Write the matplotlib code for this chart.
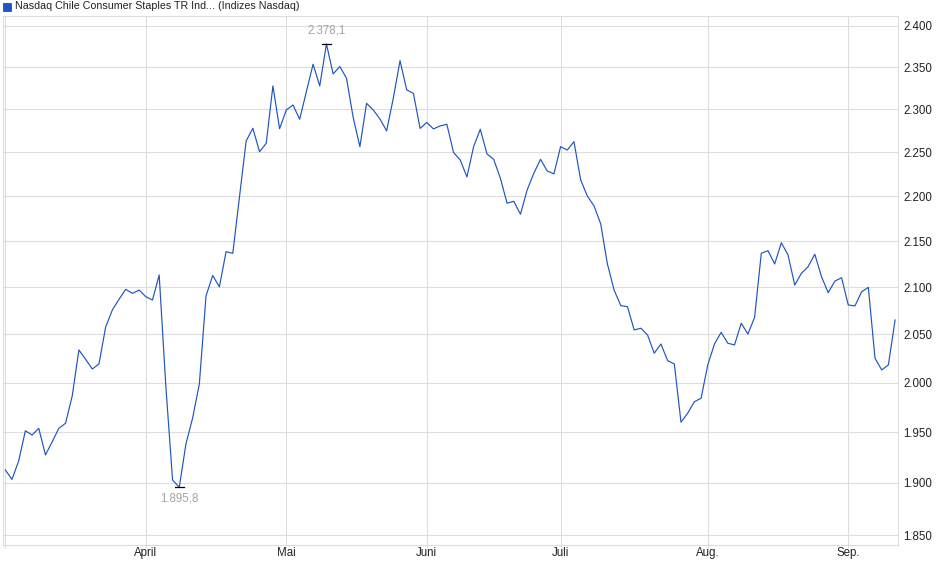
import numpy as np
import pandas as pd
import matplotlib
matplotlib.use("Agg")
import matplotlib.pyplot as plt
from matplotlib.ticker import FixedLocator, NullLocator

plt.rcParams["font.family"] = ["Liberation Sans", "DejaVu Sans"]

# trading days (NYSE calendar) Mar 3 - Sep 11, 2025
holidays = ["2025-04-18", "2025-05-26", "2025-06-19", "2025-07-04", "2025-09-01"]
dates = pd.bdate_range("2025-03-03", "2025-09-11", freq="C", holidays=holidays)

# index closes
close = [
    1912.7, 1903.5, 1921.6, 1951.4, 1947.1, 1953.8, 1927.5, 1940.3, 1953.8, 1958.9,
    1986.4, 2033.7, 2024.1, 2014.0, 2019.2, 2057.7, 2075.7, 2087.1, 2097.7, 2093.4,
    2096.9, 2089.8, 2086.3, 2113.2, 1995.8, 1902.9, 1895.8, 1938.3, 1964.2, 1998.5,
    2090.6, 2112.6, 2100.4, 2138.5, 2136.7, 2199.4, 2263.0, 2277.8, 2250.6, 2260.3,
    2327.6, 2277.2, 2299.1, 2305.0, 2288.3, 2320.5, 2353.5, 2327.6, 2378.1, 2341.9,
    2350.8, 2336.8, 2290.3, 2256.4, 2307.0, 2299.1, 2288.6, 2274.7, 2313.3, 2357.9,
    2322.9, 2318.7, 2277.6, 2284.5, 2277.0, 2280.5, 2282.4, 2249.7, 2241.1, 2221.8,
    2256.4, 2276.6, 2248.0, 2241.9, 2220.3, 2192.1, 2194.3, 2179.8, 2207.0, 2226.0,
    2241.9, 2228.6, 2225.2, 2256.4, 2252.6, 2262.2, 2218.4, 2200.2, 2189.1, 2169.0,
    2125.1, 2096.9, 2080.3, 2079.2, 2054.6, 2056.4, 2049.3, 2030.3, 2039.9, 2022.6,
    2019.2, 1959.9, 1969.0, 1980.6, 1984.1, 2018.2, 2039.9, 2052.1, 2040.7, 2038.9,
    2061.7, 2050.3, 2067.8, 2136.7, 2139.6, 2125.1, 2148.3, 2134.9, 2102.3, 2115.0,
    2122.2, 2135.7, 2111.3, 2094.1, 2106.6, 2110.2, 2081.0, 2080.0, 2095.1, 2099.8,
    2025.1, 2013.0, 2018.2, 2065.1,
]

month_names = ["", "April", "Mai", "Juni", "Juli", "Aug.", "Sep."]
y_ticks = [1850, 1900, 1950, 2000, 2050, 2100, 2150, 2200, 2250, 2300, 2350, 2400]


def de_num(v, dec=0):
    s = f"{v:,.{dec}f}"
    return s.replace(",", "X").replace(".", ",").replace("X", ".")


close = np.array(close)
x = np.arange(len(close))

# first trading day of each month
month_start = [i for i in range(len(dates)) if i == 0 or dates[i].month != dates[i - 1].month]

fig = plt.figure(figsize=(9.4, 5.79), dpi=100)
W, H = 940, 579
ax = fig.add_axes([2.7 / W, 1 - 545 / H, (898.3 - 2.7) / W, (545 - 16) / H])

grid_c = "#dddddd"
ax.plot(x, close, color="#1f55c0", lw=0.85)

ax.set_yscale("log")
ax.set_ylim(1840.7, 2412.3)
ax.set_xlim(-0.39, 133.48)

ax.yaxis.set_major_locator(FixedLocator(y_ticks))
ax.yaxis.set_minor_locator(NullLocator())
ax.set_yticklabels([de_num(v) for v in y_ticks])
ax.yaxis.tick_right()
ax.tick_params(axis="y", length=0, pad=3.5, labelsize=8.3, colors="#222222")

ax.xaxis.set_major_locator(FixedLocator(month_start))
ax.set_xticklabels(month_names)
ax.tick_params(axis="x", length=2, width=0.8, color=grid_c, pad=-0.7,
               labelsize=8.3, labelcolor="#222222")

ax.grid(True, color=grid_c, lw=0.8)
ax.set_axisbelow(True)
for s in ax.spines.values():
    s.set_color(grid_c)
    s.set_linewidth(0.8)

# high / low markers
imax, imin = int(close.argmax()), int(close.argmin())
ann_c = "#aaa39b"
for i, dy in ((imax, 5), (imin, -4)):
    ax.plot([i - 0.65, i + 0.65], [close[i], close[i]], color="black", lw=0.9)
    ax.annotate(de_num(close[i], 1), (i, close[i]), xytext=(0, dy), textcoords="offset points",
                ha="center", va="bottom" if dy > 0 else "top", fontsize=8.3, color=ann_c)

# legend
fig.patches.append(plt.Rectangle((3 / W, 1 - 11 / H), 8 / W, 8 / H, transform=fig.transFigure,
                                 facecolor="#1f55c0", edgecolor="#333366", lw=0.5))
fig.text(15 / W, 1 - 6 / H, "Nasdaq Chile Consumer Staples TR Ind... (Indizes Nasdaq)",
         fontsize=7.7, va="center", ha="left", color="#222222")

fig.savefig("out.png", dpi=100)
